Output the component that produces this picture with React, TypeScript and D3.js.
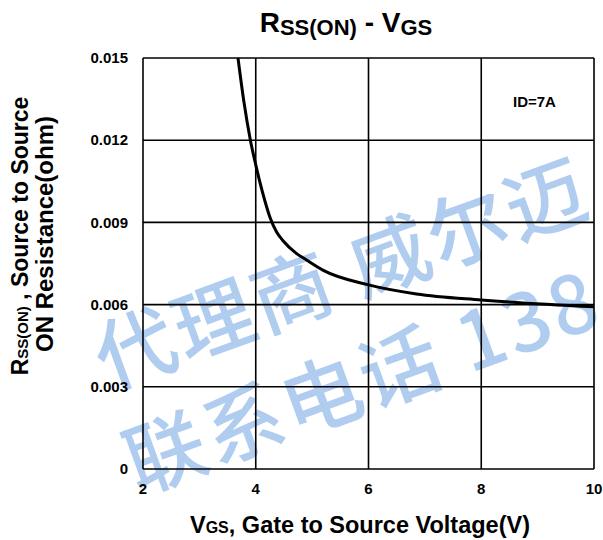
import React from "react";
import * as d3 from "d3";

const vgs = [3.685, 3.79, 3.905, 4.0, 4.12, 4.25, 4.37, 4.48, 4.72, 4.9, 5.19, 6.0, 6.85, 8.0, 10.0];
const rds = [0.015, 0.0134, 0.012, 0.0111, 0.0101, 0.0092, 0.00865, 0.00834, 0.00787, 0.00763, 0.00726, 0.00672, 0.00639, 0.00617, 0.00592];
const xTicks = [2, 4, 6, 8, 10];
const yTicks = [0, 0.003, 0.006, 0.009, 0.012, 0.015];
const yTickLabels = ["0", "0.003", "0.006", "0.009", "0.012", "0.015"];
const watermark1 = "代理商 威尔迈";
const watermark2 = "联系电话 138";

const W = 603;
const H = 540;
const FONT = "'Liberation Sans', Arial, Helvetica, sans-serif";

export default function App() {
  const x = d3.scaleLinear().domain([2, 10]).range([143, 594]);
  const y = d3.scaleLinear().domain([0, 0.015]).range([469, 58]);
  const line = d3
    .line<number>()
    .x((_, i) => x(vgs[i]))
    .y((d) => y(d))
    .curve(d3.curveMonotoneX);

  return (
    <svg
      width={W}
      height={H}
      style={{ position: "absolute", left: 0, top: 0, background: "#fff" }}
      fontFamily={FONT}
      fontWeight="bold"
    >
      <rect x={0} y={0} width={W} height={H} fill="#fff" />
      {/* watermark */}
      <g fill="rgb(176,205,240)" fontWeight="500" fontFamily="'Noto Sans CJK SC', sans-serif" fontSize={80} letterSpacing={3}>
        <text x={108} y={390} transform="rotate(-20 108 390)">{watermark1}</text>
        <text x={138} y={494} transform="rotate(-20 138 494)">{watermark2}</text>
      </g>
      {/* grid */}
      <g stroke="#000" strokeWidth={1.6}>
        {xTicks.map((t) => (
          <line key={"gx" + t} x1={x(t)} x2={x(t)} y1={y(0)} y2={y(0.015)} />
        ))}
        {yTicks.map((t) => (
          <line key={"gy" + t} x1={x(2)} x2={x(10)} y1={y(t)} y2={y(t)} />
        ))}
      </g>
      <path d={line(rds) || ""} fill="none" stroke="#000" strokeWidth={3} />
      {/* y ticks */}
      <g fontSize={15} textAnchor="end">
        {yTicks.map((t, i) => (
          <text key={"yt" + t} x={128} y={y(t)} dy="0.35em">
            {yTickLabels[i]}
          </text>
        ))}
      </g>
      <g fontSize={15} textAnchor="middle">
        {xTicks.map((t) => (
          <text key={"xt" + t} x={x(t)} y={494}>
            {t}
          </text>
        ))}
      </g>
      <text x={513} y={107} fontSize={15}>ID=7A</text>
      {/* title */}
      <text x={346} y={32} textAnchor="middle" fontSize={28}>
        <tspan>R</tspan>
        <tspan fontSize={22} dy={3}>SS(ON)</tspan>
        <tspan dy={-3}> - V</tspan>
        <tspan fontSize={22} dy={3}>GS</tspan>
      </text>
      {/* x label */}
      <text x={360} y={533} textAnchor="middle" fontSize={23.5}>
        <tspan>V</tspan>
        <tspan fontSize={16}>GS</tspan>
        <tspan>, Gate to Source Voltage(V)</tspan>
      </text>
      {/* y label */}
      <g transform="translate(28,236) rotate(-90)">
        <text x={0} y={0} textAnchor="middle" fontSize={23}>
          <tspan>R</tspan>
          <tspan fontSize={15}>SS(ON)</tspan>
          <tspan> , Source to Source</tspan>
        </text>
      </g>
      <g transform="translate(53,234) rotate(-90)">
        <text x={0} y={0} textAnchor="middle" fontSize={24}>
          ON Resistance(ohm)
        </text>
      </g>
    </svg>
  );
}
